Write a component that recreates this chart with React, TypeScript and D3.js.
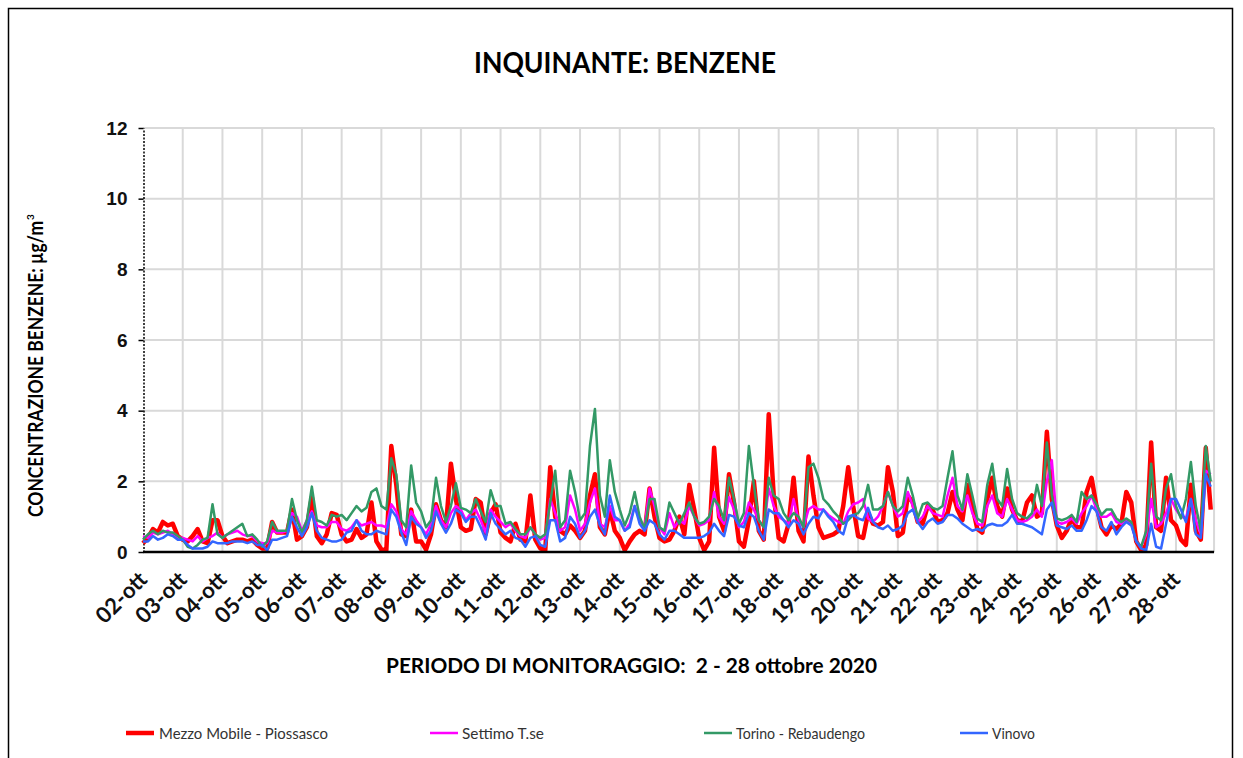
import React, { useEffect, useRef } from "react";
import * as d3 from "d3";

// one value every 3 hours, 8 values per day, from 02-ott 00:00 to 28-ott 21:00
const days = [
  "02-ott", "03-ott", "04-ott", "05-ott", "06-ott", "07-ott", "08-ott", "09-ott", "10-ott",
  "11-ott", "12-ott", "13-ott", "14-ott", "15-ott", "16-ott", "17-ott", "18-ott", "19-ott",
  "20-ott", "21-ott", "22-ott", "23-ott", "24-ott", "25-ott", "26-ott", "27-ott", "28-ott"
];

const yTicks = [0, 2, 4, 6, 8, 10, 12];

const piossasco = [
  0.25, 0.4, 0.65, 0.55, 0.85, 0.75, 0.8, 0.45,
  0.35, 0.3, 0.45, 0.65, 0.3, 0.25, 0.9, 0.9,
  0.45, 0.25, 0.3, 0.35, 0.35, 0.3, 0.35, 0.2,
  0.1, 0.1, 0.85, 0.55, 0.55, 0.55, 1.2, 0.35,
  0.45, 0.7, 1.55, 0.45, 0.25, 0.5, 1.1, 1.05,
  0.5, 0.3, 0.35, 0.65, 0.4, 0.5, 1.4, 0.3,
  0.07, 0.05, 3.0, 1.9, 0.5, 0.45, 1.2, 0.3,
  0.3, 0.07, 0.5, 1.35, 0.9, 0.7, 2.5, 1.5,
  0.7, 0.6, 0.65, 1.5, 1.4, 0.5, 1.1, 1.35,
  0.55, 0.4, 0.3, 0.8, 0.35, 0.3, 1.6, 0.35,
  0.1, 0.05, 2.4, 1.0, 0.6, 0.5, 0.75, 0.6,
  0.4, 0.6, 1.6, 2.2, 0.7, 0.5, 1.2, 0.6,
  0.4, 0.05, 0.3, 0.5, 0.6, 0.5, 1.8, 1.0,
  0.4, 0.3, 0.35, 0.6, 1.0, 0.5, 1.9, 1.2,
  0.4, 0.05, 0.3, 2.95, 1.0, 0.6, 2.2, 1.4,
  0.3, 0.15, 0.9, 2.0, 0.6, 0.35, 3.9, 1.6,
  0.4, 0.3, 0.8, 2.1, 0.6, 0.3, 2.7, 1.6,
  0.7, 0.4, 0.45, 0.5, 0.6, 1.3, 2.4, 1.3,
  0.45, 0.4, 1.1, 0.8, 0.75, 0.85, 2.4, 1.7,
  0.45, 0.55, 1.6, 1.4, 0.85, 0.8, 1.3, 1.2,
  0.85, 0.9, 1.1, 1.7, 1.2, 0.9, 1.9, 1.3,
  0.65, 0.55, 1.5, 2.1, 1.3, 1.0, 1.8, 1.2,
  0.9, 0.85, 1.4, 1.6, 1.0, 1.1, 3.4, 1.5,
  0.75, 0.4, 0.6, 0.95, 0.7, 0.7, 1.7, 2.1,
  1.3, 0.7, 0.5, 0.75, 0.65, 0.8, 1.7, 1.4,
  0.3, 0.05, 0.2, 3.1, 0.7, 0.6, 2.1, 0.9,
  0.75, 0.35, 0.2, 1.9, 0.6, 0.35, 2.95, 1.2
];

const settimo = [
  0.45, 0.4, 0.55, 0.5, 0.55, 0.6, 0.5, 0.4,
  0.4, 0.35, 0.3, 0.45, 0.3, 0.4, 0.45, 0.55,
  0.4, 0.5, 0.55, 0.6, 0.5, 0.45, 0.45, 0.3,
  0.25, 0.25, 0.6, 0.55, 0.55, 0.6, 1.1, 1.0,
  0.6, 0.9, 1.15, 0.75, 0.7, 0.7, 0.85, 0.85,
  0.65, 0.6, 0.7, 0.9, 0.75, 0.8, 0.85, 0.75,
  0.75, 0.7, 1.35, 1.15, 0.65, 0.5, 1.15, 0.9,
  0.7, 0.5, 0.8, 1.3, 0.9, 0.7, 1.1, 1.3,
  1.2, 0.9, 1.1, 1.2, 0.9, 0.55, 1.2, 1.0,
  0.85, 0.7, 0.8, 0.6, 0.45, 0.4, 0.7, 0.5,
  0.35, 0.4, 1.5, 1.1, 0.6, 0.7, 1.6, 1.2,
  0.6, 0.8, 1.4, 1.8, 0.8, 0.7, 1.3, 0.9,
  0.9, 0.6, 0.8, 1.3, 0.9, 0.7, 1.8, 1.3,
  0.7, 0.5, 1.1, 0.7, 0.9, 0.8, 1.3, 1.0,
  0.75, 0.8, 0.9, 1.7, 1.0, 0.8, 1.55, 1.2,
  0.7, 0.85, 1.4, 1.2, 0.9, 0.7, 1.8, 1.3,
  1.0, 0.9, 0.8, 1.5, 0.9, 0.7, 1.2, 1.3,
  1.2, 1.2, 1.05, 0.95, 0.85, 0.8, 1.15, 1.35,
  1.4, 1.5, 0.95, 0.85, 1.0, 1.3, 1.7, 1.3,
  1.0, 1.1, 1.7, 1.3, 0.85, 1.0, 1.3, 1.1,
  1.05, 1.0, 1.6, 2.1, 1.3, 1.15, 1.6, 1.1,
  0.8, 0.75, 1.3, 1.6, 1.1, 1.0, 1.5, 1.2,
  0.9, 0.85, 0.9, 1.0, 1.2, 1.0, 2.0, 2.6,
  0.85, 0.8, 0.85, 0.95, 0.8, 1.1, 1.3, 1.6,
  1.2, 1.0, 1.0, 1.1, 0.85, 0.8, 0.9, 0.8,
  0.3, 0.15, 0.5, 1.5, 0.7, 0.8, 1.1, 1.5,
  1.2, 1.0, 0.95, 1.5, 0.9, 0.5, 2.3, 2.2
];

const rebaudengo = [
  0.35, 0.5, 0.6, 0.5, 0.6, 0.55, 0.55, 0.45,
  0.35, 0.15, 0.1, 0.2, 0.35, 0.4, 1.35, 0.5,
  0.4, 0.5, 0.6, 0.7, 0.8, 0.45, 0.5, 0.35,
  0.15, 0.3, 0.85, 0.6, 0.6, 0.6, 1.5, 0.9,
  0.55, 0.9, 1.85, 0.9, 0.85, 0.75, 1.05, 1.0,
  1.05, 0.9, 1.1, 1.3, 1.15, 1.25, 1.7, 1.8,
  1.3, 1.2, 2.65, 2.2, 0.9, 0.7, 2.45, 1.4,
  1.15, 0.7, 0.9, 2.1, 1.3, 0.85, 1.3, 1.95,
  1.25, 1.2, 1.1, 1.5, 1.15, 0.85, 1.75, 1.3,
  1.3, 0.8, 0.85, 0.65, 0.5, 0.5, 0.7, 0.5,
  0.4, 0.5, 1.4, 2.3, 0.7, 0.9, 2.3, 1.7,
  0.9, 1.1, 3.0, 4.05, 1.6, 1.0, 2.6, 1.7,
  1.2, 0.75, 1.1, 1.7, 1.0, 0.65, 1.5, 1.5,
  0.7, 0.6, 1.4, 1.1, 0.8, 1.1, 1.4, 1.0,
  0.8, 0.85, 1.0, 1.5, 1.3, 0.9, 2.1, 1.5,
  0.8, 1.1, 3.0, 1.9, 0.9, 0.7, 2.1, 1.6,
  1.5, 1.1, 0.9, 1.1, 1.0, 0.7, 2.4, 2.5,
  2.1, 1.5, 1.35, 1.15, 1.0, 0.8, 0.9, 1.05,
  1.1, 1.3, 1.9, 1.2, 1.2, 1.3, 1.7, 1.3,
  1.15, 1.3, 2.1, 1.6, 0.95, 1.35, 1.4, 1.25,
  1.2, 1.3, 2.1, 2.85, 1.6, 1.2, 2.2, 1.6,
  0.95, 0.85, 1.9, 2.5, 1.5, 1.3, 2.35, 1.5,
  1.1, 1.0, 0.95, 1.1, 1.9, 1.3, 3.1, 1.6,
  0.95, 0.9, 0.95, 1.05, 0.85, 1.7, 1.5, 1.6,
  1.35, 1.05, 1.2, 1.2, 0.95, 0.85, 0.95, 0.85,
  0.3, 0.15, 0.6, 2.5, 1.0, 0.9, 1.8, 2.2,
  1.3, 0.95, 1.5, 2.55, 1.3, 0.6, 3.0, 2.0
];

const vinovo = [
  0.3, 0.3, 0.45, 0.35, 0.4, 0.5, 0.45, 0.35,
  0.35, 0.2, 0.1, 0.1, 0.1, 0.15, 0.3, 0.25,
  0.25, 0.25, 0.3, 0.3, 0.3, 0.25, 0.3, 0.2,
  0.2, 0.05, 0.35, 0.35, 0.4, 0.45, 1.0, 0.7,
  0.45, 0.7, 1.1, 0.6, 0.4, 0.35, 0.3, 0.3,
  0.35, 0.55, 0.6, 0.9, 0.6, 0.5, 0.5, 0.6,
  0.55, 0.5, 1.2, 1.0, 0.55, 0.2, 1.0, 0.8,
  0.7, 0.4, 0.6, 1.15, 0.8, 0.55, 0.8, 1.2,
  1.1, 0.85, 1.0, 1.0, 0.7, 0.35, 1.1, 0.8,
  0.65, 0.5, 0.6, 0.4, 0.35, 0.15, 0.4, 0.45,
  0.2, 0.15, 0.9, 0.9, 0.3, 0.4, 1.0, 0.8,
  0.4, 0.6, 1.0, 1.2, 0.75, 0.5, 1.6, 1.0,
  0.9, 0.6, 0.7, 1.3, 0.8, 0.6, 0.9, 0.8,
  0.5, 0.35, 0.6, 0.6, 0.5, 0.4, 0.4, 0.4,
  0.4, 0.45, 0.55, 0.8, 0.6, 0.45, 1.05, 1.0,
  0.75, 0.7, 1.1, 1.0, 0.6, 0.35, 1.2, 1.1,
  1.1, 0.9, 0.7, 0.9, 0.8, 0.5, 0.8, 1.0,
  0.95, 1.2, 1.0, 0.85, 0.6, 0.5, 1.0, 1.05,
  0.95, 0.9, 1.25, 0.85, 0.7, 0.65, 0.75, 0.6,
  0.65, 0.75, 1.1, 1.2, 0.85, 0.65, 0.85, 0.95,
  0.8, 0.85, 1.05, 1.05, 0.95, 0.8, 0.7, 0.6,
  0.65, 0.6, 0.75, 0.8, 0.75, 0.75, 0.85, 1.05,
  0.8, 0.8, 0.75, 0.7, 0.6, 0.5, 1.2, 1.4,
  0.75, 0.7, 0.65, 0.75, 0.6, 0.6, 0.9, 1.3,
  1.15, 0.7, 0.6, 0.85, 0.5, 0.7, 0.85, 0.75,
  0.3, 0.1, 0.05, 0.8, 0.15, 0.1, 0.8, 1.5,
  1.5, 1.2, 0.85, 1.5, 0.5, 0.4, 2.2, 1.85
];

const seriesNames = ["Mezzo Mobile - Piossasco", "Settimo T.se", "Torino - Rebaudengo", "Vinovo"];
const seriesValues = [piossasco, settimo, rebaudengo, vinovo];
const seriesColors = ["#ff0000", "#ff00ff", "#339966", "#3366ff"];
const seriesWidths = [4.5, 2.5, 2.5, 2.5];

const HOURS_STEP = 3;

function BenzeneChart() {
  const ref = useRef<SVGSVGElement>(null);

  useEffect(() => {
    const svg = d3.select(ref.current);
    svg.selectAll("*").remove();

    const left = 143;
    const top = 128;
    const bottom = 552;
    const dayWidth = 39.73;
    const lastHour = 647;

    const xScale = d3.scaleLinear()
      .domain([0, 24 * days.length])
      .range([left, left + dayWidth * days.length]);

    const yScale = d3.scaleLinear()
      .domain([0, 12])
      .range([bottom, top]);

    const right = xScale(lastHour);

    // outer frame
    svg.append("rect")
      .attr("x", 8.5).attr("y", 8.5)
      .attr("width", 1224).attr("height", 800)
      .attr("fill", "white")
      .attr("stroke", "black")
      .attr("stroke-width", 1.5);

    // grid
    const grid = svg.append("g").attr("stroke", "#d9d9d9").attr("stroke-width", 2);
    grid.selectAll(".hgrid")
      .data(yTicks.filter(d => d > 0))
      .enter()
      .append("line")
      .attr("x1", left).attr("x2", right)
      .attr("y1", d => yScale(d)).attr("y2", d => yScale(d));

    grid.selectAll(".vgrid")
      .data(d3.range(1, days.length))
      .enter()
      .append("line")
      .attr("x1", d => xScale(d * 24)).attr("x2", d => xScale(d * 24))
      .attr("y1", top).attr("y2", bottom);

    grid.append("line")
      .attr("x1", right).attr("x2", right)
      .attr("y1", top).attr("y2", bottom);

    // y axis
    const yAxis = d3.axisLeft(yScale)
      .tickValues(yTicks)
      .tickSize(5)
      .tickSizeOuter(0)
      .tickPadding(11);

    const yg = svg.append("g")
      .attr("transform", `translate(${left + 0.5}, 0)`)
      .call(yAxis);
    yg.select(".domain")
      .attr("stroke", "black")
      .attr("stroke-width", 1.5)
      .attr("stroke-dasharray", "2,1.5");
    yg.selectAll(".tick line").attr("stroke", "black").attr("stroke-width", 1.5);
    yg.selectAll(".tick text")
      .attr("font-family", "'Liberation Sans', Arial, sans-serif")
      .attr("font-weight", "bold")
      .attr("font-size", 19)
      .attr("fill", "#111");

    // series
    const line = d3.line<number>()
      .x((d, i) => xScale(i * HOURS_STEP))
      .y(d => yScale(d));

    svg.append("g")
      .selectAll(".series")
      .data(seriesValues)
      .enter()
      .append("path")
      .attr("class", "series")
      .attr("d", d => line(d))
      .attr("fill", "none")
      .attr("stroke", (d, i) => seriesColors[i])
      .attr("stroke-width", (d, i) => seriesWidths[i])
      .attr("stroke-linejoin", "round");

    // x axis
    const xAxis = d3.axisBottom(xScale)
      .tickValues(days.map((d, i) => i * 24))
      .tickSize(0)
      .tickFormat((d, i) => days[i]);

    const xg = svg.append("g")
      .attr("transform", `translate(0, ${bottom})`)
      .call(xAxis);
    xg.select(".domain").remove();
    xg.selectAll(".tick text")
      .attr("x", 0)
      .attr("y", 0)
      .attr("dy", null)
      .attr("text-anchor", "end")
      .attr("transform", "translate(5, 29) rotate(-45)")
      .attr("textLength", 62)
      .attr("lengthAdjust", "spacingAndGlyphs")
      .attr("font-family", "Lato, 'Open Sans', sans-serif")
      .attr("font-weight", "bold")
      .attr("font-size", 22)
      .attr("fill", "#111");

    svg.append("line")
      .attr("x1", left).attr("x2", right)
      .attr("y1", bottom).attr("y2", bottom)
      .attr("stroke", "black")
      .attr("stroke-width", 2.5);

    // titles
    svg.append("text")
      .attr("x", 474).attr("y", 73)
      .attr("textLength", 302)
      .attr("lengthAdjust", "spacingAndGlyphs")
      .attr("font-family", "Lato, sans-serif")
      .attr("font-weight", "bold")
      .attr("font-size", 28)
      .text("INQUINANTE: BENZENE");

    svg.append("text")
      .attr("x", 386).attr("y", 673)
      .attr("textLength", 491)
      .attr("lengthAdjust", "spacingAndGlyphs")
      .attr("font-family", "Lato, sans-serif")
      .attr("font-weight", "bold")
      .attr("font-size", 21)
      .style("white-space", "pre")
      .text("PERIODO DI MONITORAGGIO:  2 - 28 ottobre 2020");

    const yTitle = svg.append("g").attr("transform", "translate(43, 517) rotate(-90)");
    yTitle.append("text")
      .attr("x", 0).attr("y", 0)
      .attr("textLength", 296)
      .attr("lengthAdjust", "spacingAndGlyphs")
      .attr("font-family", "Lato, sans-serif")
      .attr("font-weight", "bold")
      .attr("font-size", 20)
      .text("CONCENTRAZIONE BENZENE: µg/m");
    yTitle.append("text")
      .attr("x", 297).attr("y", -9)
      .attr("font-family", "Lato, sans-serif")
      .attr("font-weight", "bold")
      .attr("font-size", 10)
      .text("3");

    // legend
    const legendX = [126, 430, 704, 960];
    const legendTextLen = [169, 82, 129, 43];
    const legend = svg.append("g")
      .selectAll(".legend")
      .data(seriesNames)
      .enter()
      .append("g")
      .attr("transform", (d, i) => `translate(${legendX[i]}, 733)`);
    legend.append("line")
      .attr("x1", 0).attr("x2", 28)
      .attr("y1", 0).attr("y2", 0)
      .attr("stroke", (d, i) => seriesColors[i])
      .attr("stroke-width", (d, i) => seriesWidths[i]);
    legend.append("text")
      .attr("x", (d, i) => (i === 0 ? 33 : 32))
      .attr("y", 5.5)
      .attr("textLength", (d, i) => legendTextLen[i])
      .attr("lengthAdjust", "spacingAndGlyphs")
      .attr("font-family", "Lato, sans-serif")
      .attr("font-size", 16)
      .attr("fill", "#333")
      .text(d => d);
  }, []);

  return (
    <svg
      ref={ref}
      width={1243}
      height={758}
      style={{ position: "absolute", left: 0, top: 0, background: "white" }}
    ></svg>
  );
}

export default function App() {
  return <BenzeneChart />;
}
